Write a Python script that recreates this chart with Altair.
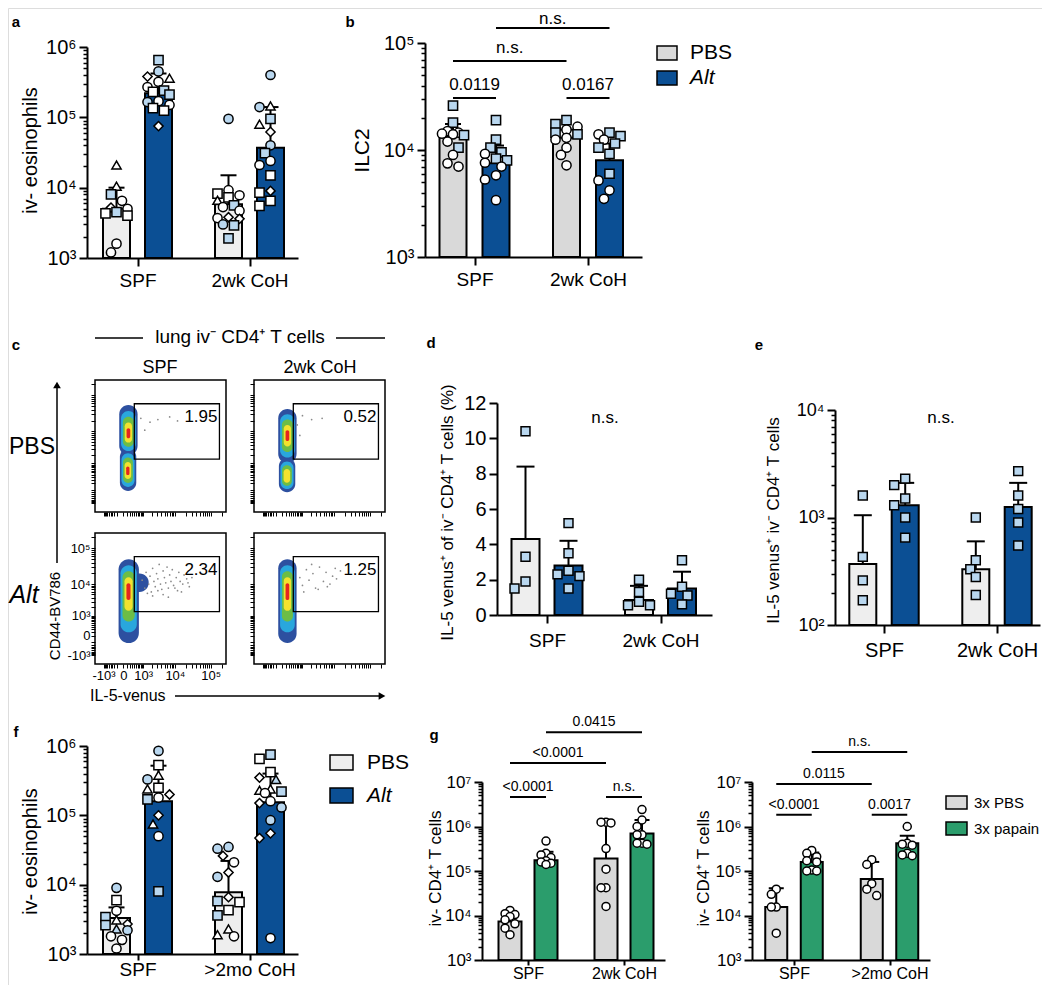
import json
import math
import altair as alt
import pandas as pd

OFF = 8
W, H = 1034, 977
FONT = "Liberation Sans"
BLACK = "#000000"
DARK = "#0b4f94"
LBLUE = "#b9d7ef"
PALE = "#eeeeee"
GREY = "#d9d9d9"
GREEN = "#2b9d6c"

# ----------------------------------------------------------------- data
TREAT_AB = ["PBS", "Alt"]
TREAT_G = ["3x PBS", "3x papain"]

# panel a
A_GROUPS = ["SPF", "2wk CoH"]
A_MEAN = [5000, 220000, 5800, 37000]
A_SDTOP = [10000, 420000, 15000, 140000]
A_V = [
    [21000, 10500, 8000, 6500, 5200, 5000, 4500, 4300, 4000, 1600, 1200],
    [650000, 450000, 380000, 360000, 320000, 270000, 240000, 230000, 210000, 170000, 165000, 150000, 135000, 125000, 75000],
    [95000, 9200, 8200, 7800, 7300, 6600, 5600, 5300, 4700, 3800, 3700, 3600, 3000, 2900, 1900],
    [400000, 145000, 140000, 95000, 80000, 62000, 40000, 31000, 24000, 21000, 15000, 9000, 8500, 6500, 5500],
]
A_SHAPE = ["ttsodosssoo", "sodtoosssooossd", "oosostsoododoss", "otostdosoosdsss"]
A_FILL = ["wwbwwwbwwww", "bbwwwwbwbwbwwww", "bwwwwwbwwwwwbbb", "bwbbwwbbwwwwwww"]

# panel b
B_GROUPS = ["SPF", "2wk CoH"]
B_MEAN = [13500, 7500, 13000, 8000]
B_SDTOP = [17500, 11000, 15500, 11500]
B_V = [
    [26000, 18000, 15000, 14500, 14200, 14000, 13800, 12000, 10500, 9000, 7500, 7000],
    [19000, 12500, 10500, 9500, 9200, 8300, 8000, 7600, 7000, 5800, 5300, 3400],
    [19000, 17500, 16500, 15500, 14500, 14000, 13000, 12500, 10500, 9000, 7200],
    [14500, 14000, 13500, 12500, 11500, 10500, 9200, 6000, 5200, 4200, 3500],
]
B_SHAPE = ["ssoooososooo", "ssssossooooo", "ssoossooooo", "sosossssooo"]
B_FILL = ["bbwwwwbwbwww", "bbbbwbbwwwww", "bbwwbbwwwww", "bwbwbbbbwww"]
B_SIG = [(0, 1, 30600, "0.0119", 8), (2, 3, 30600, "0.0167", 8), (0, 2, 68000, "n.s.", 8),
         (1, 3, 138000, "n.s.", 4)]

# panel d
D_GROUPS = ["SPF", "2wk CoH"]
D_MEAN = [4.3, 2.8, 0.85, 1.5]
D_SDTOP = [8.4, 4.2, 1.65, 2.45]
D_V = [[10.4, 3.3, 1.9, 1.5], [5.2, 3.5, 2.5, 2.3, 2.2, 1.5], [2.0, 1.3, 0.75, 0.55, 0.55], [3.1, 1.6, 1.2, 1.1, 0.6]]

# panel e
E_GROUPS = ["SPF", "2wk CoH"]
E_MEAN = [370, 1300, 330, 1250]
E_SDTOP = [1050, 2100, 600, 2100]
E_V = [[1600, 430, 260, 170], [2300, 2000, 1500, 1300, 1000, 650], [1000, 400, 330, 280, 190], [2700, 1600, 1200, 900, 550]]

# panel f
F_GROUPS = ["SPF", ">2mo CoH"]
F_MEAN = [3300, 160000, 7800, 155000]
F_SDTOP = [4700, 520000, 22000, 400000]
F_V = [
    [9000, 6000, 4200, 3400, 3100, 2700, 2600, 2300, 2200, 1800, 1600, 1200],
    [850000, 530000, 380000, 330000, 250000, 240000, 200000, 180000, 170000, 100000, 75000, 50000, 8000],
    [35000, 33000, 26000, 21000, 15000, 13000, 6600, 5800, 5600, 4300, 3600, 2300, 1900, 1800],
    [750000, 650000, 420000, 350000, 330000, 240000, 230000, 220000, 210000, 160000, 150000, 130000, 85000, 55000, 47000, 1700],
]
F_SHAPE = ["osostdstoooo", "ostostdosdtos", "oodododsssstto", "sssdtttsoodooddo"]
F_FILL = ["bwwbwwbbbwww", "bwwbwwwwbwwwb", "bbwwwbwbwwbwww", "bwwwbwwbwwwbbwww"]

# panel g
GL_GROUPS = ["SPF", "2wk CoH"]
GL_MEAN = [7300, 175000, 190000, 700000]
GL_SDTOP = [10000, 270000, 1200000, 1400000]
GL_V = [
    [13000, 11000, 10500, 9500, 8000, 6500, 5200, 3700],
    [470000, 250000, 230000, 200000, 170000, 160000, 150000, 140000],
    [1250000, 1250000, 1200000, 320000, 110000, 42000, 42000, 16000],
    [2400000, 1400000, 1000000, 650000, 650000, 420000, 420000, 400000],
]
GL_SIG = [(0, 1, 4.6e6, "<0.0001", 6), (2, 3, 4.6e6, "n.s.", 6), (0, 2, 2.66e7, "<0.0001", 6),
          (1, 3, 1.31e8, "0.0415", 6)]
GR_GROUPS = ["SPF", ">2mo CoH"]
GR_MEAN = [15500, 160000, 66000, 420000]
GR_SDTOP = [41000, 260000, 160000, 620000]
GR_V = [
    [39000, 30000, 15500, 15500, 4000],
    [290000, 250000, 210000, 170000, 160000, 105000, 100000, 100000],
    [180000, 140000, 52000, 39000, 28000],
    [1000000, 420000, 400000, 380000, 250000, 230000, 220000],
]
GR_SIG = [(0, 1, 1.83e6, "<0.0001", 6), (2, 3, 1.83e6, "0.0017", 6), (0, 2, 9.0e6, "0.0115", 6),
          (1, 3, 4.7e7, "n.s.", 6)]

# panel c (flow plots, display units 0-100)
FLOW_DOM = [0, 100]
FLOW_MAJOR = [-1000, 0, 1000, 10000, 100000]
FLOW_MAJOR_TXT = ["-10³", "0", "10³", "10⁴", "10⁵"]
FLOW_GATE = [30, 95, 40, 82]
FLOW_PCT = {"TL": "1.95", "TR": "0.52", "BL": "2.34", "BR": "1.25"}
FLOW_LOBES = {  # x1, x2, y1, y2, core x, core y, levels
    "TL": [(18.5, 32.5, 43, 81, 25.5, 59, 5), (19, 31.5, 16, 48, 25, 31, 5)],
    "TR": [(18.5, 32.5, 37, 78, 25.5, 58, 5), (19, 31.5, 15, 41, 25, 27, 4)],
    "BL": [(26, 41, 55, 69, 30, 62, 1), (18, 33.5, 16, 80, 25.5, 57, 5)],
    "BR": [(18.5, 32.5, 16, 80, 25.5, 57, 5)],
}
FLOW_DOTS_X = {
    "TL": [35, 42, 48, 57, 63, 38],
    "TR": [33, 37, 44, 52, 35],
    "BL": [36, 38, 39, 41, 42, 43, 44, 45, 46, 47, 48, 49, 50, 51, 52, 53, 54, 55, 56, 57,
           58, 59, 60, 62, 63, 64, 65, 67, 68, 70, 72, 74, 40, 44, 48, 52, 56, 61, 66, 71],
    "BR": [35, 37, 40, 42, 45, 47, 50, 53, 55, 58, 60, 63, 66, 38, 44, 49, 56, 62],
}
FLOW_DOTS_Y = {
    "TL": [71, 68, 70, 72, 69, 62],
    "TR": [66, 73, 70, 71, 58],
    "BL": [64, 58, 70, 61, 67, 55, 73, 63, 59, 69, 65, 76, 61, 57, 71, 66, 62, 74, 58, 68,
           63, 72, 60, 66, 56, 70, 63, 61, 68, 65, 59, 66, 54, 52, 56, 53, 51, 58, 55, 62],
    "BR": [66, 60, 72, 64, 69, 58, 74, 63, 70, 61, 67, 65, 71, 55, 76, 57, 59, 73],
}
LEVEL_FAC = [1.0, 0.8, 0.6, 0.4, 0.2]
LEVEL_COL = ["#2d50a0", "#29a7dd", "#6cbd46", "#f2e22e", "#e42520"]

# ----------------------------------------------------------------- helpers
SUP_ARR = json.dumps(list("⁰¹²³⁴⁵⁶⁷⁸⁹"), ensure_ascii=False)
LOG_LABEL = "'10' + " + SUP_ARR + "[round(log(datum.value) / LN10)]"
ONE = pd.DataFrame({"k": [0]})


def ypx(v, cfg):
    lo, hi = cfg["dom"]
    if cfg["log"]:
        f = (math.log10(v) - math.log10(lo)) / (math.log10(hi) - math.log10(lo))
    else:
        f = (v - lo) / (hi - lo)
    return cfg["ybot"] - f * (cfg["ybot"] - cfg["ytop"])


def swarm(ys, diam, half):
    step = diam * 0.55
    cands = [0.0]
    k = 1
    while k * step <= half + 1e-9:
        cands += [-k * step, k * step]
        k += 1
    placed, out = [], []
    for y in ys:
        best, bestd = 0.0, -1.0
        for c in cands:
            dmin = min([math.hypot(c - px, y - py) for px, py in placed] or [1e9])
            if dmin >= diam * 0.9:
                best = c
                break
            if dmin > bestd:
                bestd, best = dmin, c
        placed.append((best, y))
        out.append(best)
    return out


def bar_panel(cfg, groups, treats, colors, means, sdtops, vals, shapes, fills, psize,
              ytitle, tpos, tsize, lsize, csize, cpad, ctick, sig=(), sig_size=16):
    x0, x1 = cfg["x0"], cfg["x1"]
    c0, c1 = cfg["c"]
    gs = c1 - c0

    def u(px):
        return (px - c0) / gs

    lo, hi = cfg["dom"]

    def xs():
        return alt.Scale(domain=[u(x0), u(x1)], range=[x0 - OFF, x1 - OFF], nice=False, zero=False)

    def ys():
        return alt.Scale(type="log" if cfg["log"] else "linear", domain=[lo, hi],
                         range=[cfg["ybot"] - OFF, cfg["ytop"] - OFF], nice=False, zero=False)

    xaxis = alt.Axis(orient="bottom", offset=(cfg["ybot"] - OFF) - H, values=list(range(len(groups))),
                     labelExpr=json.dumps(groups) + "[round(datum.value)]", tickSize=ctick, tickWidth=2,
                     domainWidth=2, labelFontSize=csize, labelPadding=cpad, title=None, grid=False,
                     labelFlush=False, labelOverlap=False)
    ykw = dict(orient="left", offset=-(x0 - OFF), tickSize=8, tickWidth=2, domainWidth=2,
               labelFontSize=lsize, labelPadding=3, title=ytitle, titleFontSize=tsize,
               titleFontWeight="normal", titleAngle=270, titleAlign="center", titleBaseline="middle",
               titleX=-(x0 - tpos[0]), titleY=tpos[1] - OFF, grid=False, labelFlush=False,
               labelOverlap=False)
    if cfg["log"]:
        dlo, dhi = round(math.log10(lo)), round(math.log10(hi))
        yaxis = alt.Axis(values=[10 ** e for e in range(dlo, dhi + 1)], labelExpr=LOG_LABEL, **ykw)
    else:
        yaxis = alt.Axis(values=cfg["ticks"], **ykw)

    centers, rows = [], []
    hb = cfg["bw"] / 2 / gs
    hc = cfg["cap"] / 2 / gs
    for i, (m, s) in enumerate(zip(means, sdtops)):
        g, t = divmod(i, 2)
        cx = g + (2 * t - 1) * cfg["tsp"] / gs
        centers.append(cx)
        rows.append({"treat": treats[t], "xl": cx - hb, "xr": cx + hb, "cx": cx, "cl": cx - hc,
                     "cr": cx + hc, "m": m, "s": s, "base": lo})
    bdf = pd.DataFrame(rows)

    prow = []
    for i, vs in enumerate(vals):
        order = sorted(range(len(vs)), key=lambda j: -vs[j])
        offs = swarm([ypx(vs[j], cfg) for j in order], cfg["diam"], cfg["bw"] / 2 - 2)
        for j, o in zip(order, offs):
            prow.append({"x": centers[i] + o / gs, "v": vs[j], "sh": shapes[i][j], "fl": fills[i][j]})
    pdf = pd.DataFrame(prow)

    out = [
        alt.Chart(bdf).mark_rect(stroke=BLACK, strokeWidth=2).encode(
            x=alt.X("xl:Q", scale=xs(), axis=xaxis), x2="xr:Q",
            y=alt.Y("m:Q", scale=ys(), axis=yaxis), y2="base:Q",
            color=alt.Color("treat:N", scale=alt.Scale(domain=treats, range=colors), legend=None)),
        alt.Chart(bdf).mark_rule(strokeWidth=2, color=BLACK).encode(
            x=alt.X("cx:Q", scale=xs(), axis=None), y=alt.Y("m:Q", scale=ys(), axis=None), y2="s:Q"),
        alt.Chart(bdf).mark_rule(strokeWidth=2, color=BLACK).encode(
            x=alt.X("cl:Q", scale=xs(), axis=None), x2="cr:Q", y=alt.Y("s:Q", scale=ys(), axis=None)),
        alt.Chart(pdf).mark_point(filled=True, opacity=1, stroke=BLACK, strokeWidth=1.5, size=psize).encode(
            x=alt.X("x:Q", scale=xs(), axis=None), y=alt.Y("v:Q", scale=ys(), axis=None),
            fill=alt.Fill("fl:N", scale=alt.Scale(domain=["w", "b"], range=["#ffffff", LBLUE]), legend=None),
            shape=alt.Shape("sh:N", scale=alt.Scale(domain=["o", "s", "d", "t"],
                                                    range=["circle", "square", "diamond", "triangle-up"]),
                            legend=None)),
    ]
    if sig:
        sdf = pd.DataFrame([{"a": centers[i], "b": centers[j], "mid": (centers[i] + centers[j]) / 2,
                             "v": v, "t": t, "dy": dy} for i, j, v, t, dy in sig])
        out.append(alt.Chart(sdf).mark_rule(strokeWidth=2, color=BLACK).encode(
            x=alt.X("a:Q", scale=xs(), axis=None), x2="b:Q", y=alt.Y("v:Q", scale=ys(), axis=None)))
        for dy in sorted(set(s[4] for s in sig)):
            out.append(alt.Chart(sdf[sdf["dy"] == dy]).mark_text(
                fontSize=sig_size, baseline="alphabetic", dy=-dy, color=BLACK).encode(
                x=alt.X("mid:Q", scale=xs(), axis=None), y=alt.Y("v:Q", scale=ys(), axis=None), text="t:N"))
    if cfg["log"]:
        dlo, dhi = round(math.log10(lo)), round(math.log10(hi))
        minor = [k * 10 ** e for e in range(dlo, dhi) for k in range(2, 10)]
        out.append(alt.Chart(pd.DataFrame({"v": [lo]})).mark_point(opacity=0).encode(
            y=alt.Y("v:Q", scale=ys(), axis=alt.Axis(orient="left", offset=-(x0 - OFF), values=minor,
                                                     labels=False, domain=False, tickSize=4, tickWidth=1.5,
                                                     grid=False, title=None))))
    return out


# flow transform (symlog display)
FLOW_C, FLOW_MIN, FLOW_MAX = 400.0, -2000.0, 262144.0


def slog(v):
    return math.copysign(math.log1p(abs(v) / FLOW_C), v)


def disp(v):
    return 100 * (slog(v) - slog(FLOW_MIN)) / (slog(FLOW_MAX) - slog(FLOW_MIN))


FLOW_MINOR = ([-k * 100 for k in range(2, 10)] + [k * 100 for k in range(1, 10)] +
              [k * 1000 for k in range(2, 10)] + [k * 10000 for k in range(2, 10)] + [200000])
FLOW_TICKS = [disp(v) for v in FLOW_MAJOR + FLOW_MINOR]
FLOW_LABEL = ""
for v, t in zip(FLOW_MAJOR, FLOW_MAJOR_TXT):
    FLOW_LABEL += f"abs(datum.value - {disp(v):.4f}) < 0.01 ? '{t}' : "
FLOW_LABEL += "''"

FLOW_BOXES = {"TL": (95, 380, 226, 512), "TR": (254, 380, 385, 512),
              "BL": (95, 533, 226, 664), "BR": (254, 533, 385, 664)}


def flow_panel(key, labels):
    bx0, by0, bx1, by1 = FLOW_BOXES[key]

    def xs():
        return alt.Scale(domain=FLOW_DOM, range=[bx0 - OFF, bx1 - OFF], nice=False, zero=False)

    def ys():
        return alt.Scale(domain=FLOW_DOM, range=[by1 - OFF, by0 - OFF], nice=False, zero=False)

    pxu = (bx1 - bx0) / (FLOW_DOM[1] - FLOW_DOM[0])
    out = []
    for k, (fac, col) in enumerate(zip(LEVEL_FAC, LEVEL_COL)):
        for (x1, x2, y1, y2, kx, ky, n) in FLOW_LOBES[key]:
            if k >= n:
                continue
            rx1, rx2 = kx + fac * (x1 - kx), kx + fac * (x2 - kx)
            ry1, ry2 = ky + fac * (y1 - ky), ky + fac * (y2 - ky)
            r = 0.5 * min((rx2 - rx1) * pxu, (ry2 - ry1) * pxu)
            df = pd.DataFrame({"x1": [rx1], "x2": [rx2], "y1": [ry1], "y2": [ry2]})
            out.append(alt.Chart(df).mark_rect(cornerRadius=r, color=col).encode(
                x=alt.X("x1:Q", scale=xs(), axis=None), x2="x2:Q",
                y=alt.Y("y1:Q", scale=ys(), axis=None), y2="y2:Q"))
    ddf = pd.DataFrame({"x": FLOW_DOTS_X[key], "y": FLOW_DOTS_Y[key]})
    out.append(alt.Chart(ddf).mark_circle(size=3, color="#8a8a8a", opacity=1).encode(
        x=alt.X("x:Q", scale=xs(), axis=None), y=alt.Y("y:Q", scale=ys(), axis=None)))
    gdf = pd.DataFrame({"x1": [FLOW_GATE[0]], "x2": [FLOW_GATE[1]], "y1": [FLOW_GATE[2]],
                        "y2": [FLOW_GATE[3]], "tx": [FLOW_GATE[1] - 1.5], "ty": [FLOW_GATE[3] - 10],
                        "t": [FLOW_PCT[key]]})
    out.append(alt.Chart(gdf).mark_rect(fillOpacity=0, stroke=BLACK, strokeWidth=1.3).encode(
        x=alt.X("x1:Q", scale=xs(), axis=None), x2="x2:Q", y=alt.Y("y1:Q", scale=ys(), axis=None), y2="y2:Q"))
    out.append(alt.Chart(gdf).mark_text(align="right", baseline="middle", fontSize=17, color=BLACK).encode(
        x=alt.X("tx:Q", scale=xs(), axis=None), y=alt.Y("ty:Q", scale=ys(), axis=None), text="t:N"))
    common = dict(values=FLOW_TICKS, tickSize=4, tickWidth=1, domain=False, title=None, grid=False,
                  labelFontSize=13, labelPadding=1, labelFlush=False, labelOverlap=False, labels=labels)
    if labels:
        common["labelExpr"] = FLOW_LABEL
    bdf = pd.DataFrame({"x1": [FLOW_DOM[0]], "x2": [FLOW_DOM[1]], "y1": [FLOW_DOM[0]], "y2": [FLOW_DOM[1]]})
    out.append(alt.Chart(bdf).mark_rect(fillOpacity=0, stroke=BLACK, strokeWidth=1.5).encode(
        x=alt.X("x1:Q", scale=xs(), axis=alt.Axis(orient="bottom", offset=(by1 - OFF) - H, **common)),
        x2="x2:Q",
        y=alt.Y("y1:Q", scale=ys(), axis=alt.Axis(orient="left", offset=-(bx0 - OFF), **common)),
        y2="y2:Q"))
    return out


def txt(s, x, y, size, align="center", baseline="middle", weight="normal", style="normal", angle=0):
    return alt.Chart(ONE).mark_text(text=s, fontSize=size, align=align, baseline=baseline, fontWeight=weight,
                                    fontStyle=style, angle=angle, color=BLACK).encode(
        x=alt.value(x - OFF), y=alt.value(y - OFF))


def line(x1, y1, x2, y2, w=1.5):
    return alt.Chart(ONE).mark_rule(strokeWidth=w, color=BLACK).encode(
        x=alt.value(x1 - OFF), x2=alt.value(x2 - OFF), y=alt.value(y1 - OFF), y2=alt.value(y2 - OFF))


def swatch(x1, y1, x2, y2, col):
    return alt.Chart(ONE).mark_rect(color=col, stroke=BLACK, strokeWidth=1.5).encode(
        x=alt.value(x1 - OFF), x2=alt.value(x2 - OFF), y=alt.value(y1 - OFF), y2=alt.value(y2 - OFF))


def head(x, y, shape):
    return alt.Chart(ONE).mark_point(shape=shape, filled=True, size=60, color=BLACK, opacity=1).encode(
        x=alt.value(x - OFF), y=alt.value(y - OFF))


# ----------------------------------------------------------------- panels
A_CFG = dict(x0=87, x1=298, c=(137.5, 249.5), tsp=21, bw=27, cap=16, diam=10, ytop=47, ybot=258, dom=(1e3, 1e6), log=True)
B_CFG = dict(x0=425, x1=642, c=(474.5, 588), tsp=21.5, bw=27, cap=16, diam=10, ytop=43, ybot=257, dom=(1e3, 1e5), log=True)
D_CFG = dict(x0=497, x1=712, c=(547, 660.5), tsp=21.5, bw=28, cap=18, diam=10, ytop=403, ybot=615, dom=(0, 12), log=False,
             ticks=[0, 2, 4, 6, 8, 10, 12])
E_CFG = dict(x0=835, x1=1040, c=(884, 997), tsp=21.2, bw=27, cap=18, diam=10, ytop=410, ybot=625, dom=(1e2, 1e4), log=True)
F_CFG = dict(x0=87, x1=298, c=(137.5, 249.5), tsp=21, bw=27, cap=16, diam=10, ytop=746, ybot=954, dom=(1e3, 1e6), log=True)
GL_CFG = dict(x0=482, x1=665, c=(528, 624), tsp=18, bw=23, cap=15, diam=9, ytop=782, ybot=960, dom=(1e3, 1e7), log=True)
GR_CFG = dict(x0=752, x1=930, c=(794, 889.5), tsp=17.75, bw=22, cap=15, diam=9, ytop=782, ybot=960, dom=(1e3, 1e7), log=True)

charts = []
charts += bar_panel(A_CFG, A_GROUPS, TREAT_AB, [PALE, DARK], A_MEAN, A_SDTOP, A_V, A_SHAPE, A_FILL, 85,
                    "iv- eosinophils", (30, 150), 20, 20, 19, 5, 8)
charts += bar_panel(B_CFG, B_GROUPS, TREAT_AB, [GREY, DARK], B_MEAN, B_SDTOP, B_V, B_SHAPE, B_FILL, 85,
                    "ILC2", (362, 150), 21, 20, 19, 5, 8, sig=B_SIG, sig_size=17)
charts += bar_panel(D_CFG, D_GROUPS, TREAT_AB, [PALE, DARK], D_MEAN, D_SDTOP, D_V,
                    ["s" * len(v) for v in D_V], ["b" * len(v) for v in D_V], 80,
                    "IL-5 venus⁺ of iv⁻ CD4⁺ T cells (%)", (447, 512), 17, 20, 19, 8, 8)
charts += bar_panel(E_CFG, E_GROUPS, TREAT_AB, [PALE, DARK], E_MEAN, E_SDTOP, E_V,
                    ["s" * len(v) for v in E_V], ["b" * len(v) for v in E_V], 80,
                    "IL-5 venus⁺ iv⁻ CD4⁺ T cells", (773, 520), 17, 18, 20, 7, 8)
charts += bar_panel(F_CFG, F_GROUPS, TREAT_AB, [PALE, DARK], F_MEAN, F_SDTOP, F_V, F_SHAPE, F_FILL, 85,
                    "iv- eosinophils", (30, 851), 20, 20, 19, 0, 6)
charts += bar_panel(GL_CFG, GL_GROUPS, TREAT_G, [GREY, GREEN], GL_MEAN, GL_SDTOP, GL_V,
                    ["o" * len(v) for v in GL_V], ["w" * len(v) for v in GL_V], 64,
                    "iv- CD4⁺ T cells", (435, 868), 17, 17, 16, 0, 5, sig=GL_SIG, sig_size=14)
charts += bar_panel(GR_CFG, GR_GROUPS, TREAT_G, [GREY, GREEN], GR_MEAN, GR_SDTOP, GR_V,
                    ["o" * len(v) for v in GR_V], ["w" * len(v) for v in GR_V], 64,
                    "iv- CD4⁺ T cells", (703, 868), 17, 17, 16, 0, 5, sig=GR_SIG, sig_size=14)

for key in ["TL", "TR", "BL", "BR"]:
    charts += flow_panel(key, key == "BL")

# annotations
for lab, x, y in [("a", 16, 22), ("b", 350, 22), ("c", 16, 345), ("d", 431, 343), ("e", 759, 345),
                  ("f", 16, 732), ("g", 434, 735)]:
    charts.append(txt(lab, x, y, 15, weight="bold"))

charts += [
    swatch(657, 46, 677, 60, GREY), swatch(657, 71, 677, 85, DARK),
    txt("PBS", 690, 53, 21, align="left"), txt("Alt", 690, 78, 21, align="left", style="italic"),
    swatch(330, 755, 353, 770, PALE), swatch(330, 788, 353, 803, DARK),
    txt("PBS", 367, 763, 21, align="left"), txt("Alt", 367, 796, 21, align="left", style="italic"),
    swatch(946, 796, 967, 809, GREY), swatch(946, 822, 967, 835, GREEN),
    txt("3x PBS", 974, 803, 15, align="left"), txt("3x papain", 974, 829, 15, align="left"),
    txt("n.s.", 605, 418, 17), txt("n.s.", 941, 418, 17),
    txt("lung iv⁻ CD4⁺ T cells", 240, 337, 19), line(95, 338, 143, 338), line(336, 338, 385, 338),
    txt("SPF", 160, 368, 18), txt("2wk CoH", 320, 368, 18),
    txt("PBS", 9, 447, 23, align="left"), txt("Alt", 24, 595, 25, style="italic"),
    line(57, 388, 57, 563), head(57, 385, "triangle-up"),
    txt("CD44-BV786", 55, 616, 15, angle=270),
    txt("IL-5-venus", 90, 696, 16, align="left"),
    line(175, 696, 379, 696), head(382, 696, "triangle-right"),
]

chart = alt.layer(*charts).resolve_scale(
    x="independent", y="independent", color="independent", fill="independent", shape="independent"
).properties(
    width=W, height=H, autosize=alt.AutoSizeParams(type="none"), padding=0
).configure_view(stroke=None).configure(font=FONT).configure_axis(
    labelFont=FONT, titleFont=FONT, labelColor=BLACK, titleColor=BLACK, domainColor=BLACK, tickColor=BLACK
).configure_text(font=FONT)

chart.save("out.html", embed_options={"renderer": "svg", "actions": False})
